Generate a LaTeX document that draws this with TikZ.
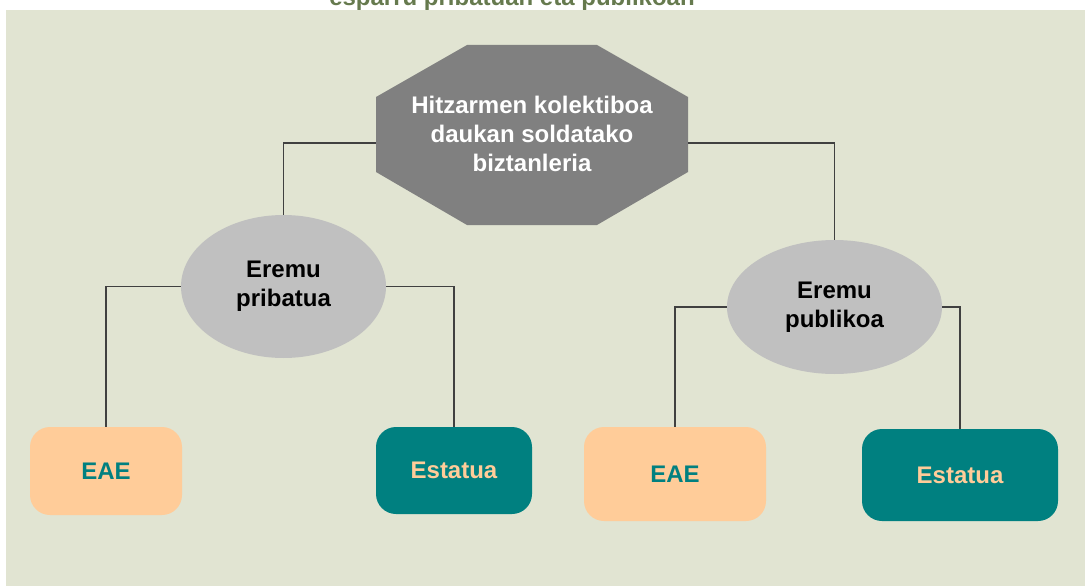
\documentclass[tikz,border=0pt]{standalone}
\usepackage{fontspec}
\setmainfont{Liberation Sans}
\usetikzlibrary{shapes.geometric,calc}
\definecolor{bgpanel}{HTML}{E1E4D2}
\definecolor{octgray}{HTML}{808080}
\definecolor{ellgray}{HTML}{C0C0C0}
\definecolor{tealc}{HTML}{008080}
\definecolor{peach}{HTML}{FFCC99}
\definecolor{olive}{HTML}{667A4E}
\definecolor{linec}{HTML}{404040}
\tikzset{
  bigtxt/.style={font=\fontsize{24}{29}\selectfont\bfseries},
  octtext/.style={bigtxt, text=white, align=center, inner sep=0pt},
  ellnode/.style={ellipse, fill=ellgray, draw=none, inner sep=0pt, bigtxt, text=black, align=center},
  eaebox/.style={rectangle, rounded corners=20pt, fill=peach, draw=none, bigtxt, text=tealc, inner sep=0pt},
  estbox/.style={rectangle, rounded corners=20pt, fill=tealc, draw=none, bigtxt, text=peach, inner sep=0pt},
  conn/.style={draw=linec, line width=1.2pt},
}
\begin{document}
\begin{tikzpicture}[x=1pt,y=-1pt]
\useasboundingbox (0,0) rectangle (1085,586);
\clip (0,0) rectangle (1085,586);
\fill[white] (0,0) rectangle (1085,586);
\node[bigtxt, text=olive, anchor=base] (title) at (512,6) {esparru pribatuan eta publikoan};
\fill[bgpanel] (6,10) rectangle (1085,586);
% octagon
\fill[octgray] (467,45) -- (597,45) -- (688,97) -- (688,172) -- (597,225) -- (467,225) -- (376,172) -- (376,97) -- cycle;
\node[octtext, minimum width=312pt, minimum height=180pt] (oct) at (532,134) {Hitzarmen kolektiboa\\daukan soldatako\\biztanleria};
% ellipses
\node[ellnode, minimum width=205pt, minimum height=143pt] (lell) at (283.5,286.5) {Eremu\\pribatua};
\node[ellnode, minimum width=215pt, minimum height=134pt] (rell) at (834.5,307) {Eremu\\publikoa};
% boxes
\node[eaebox, minimum width=152pt, minimum height=88pt] (eae1) at (106,471) {EAE};
\node[estbox, minimum width=156pt, minimum height=87pt] (est1) at (454,470.5) {Estatua};
\node[eaebox, minimum width=182pt, minimum height=94pt] (eae2) at (675,474) {EAE};
\node[estbox, minimum width=196pt, minimum height=92pt] (est2) at (960,475) {Estatua};
% connectors
\draw[conn] ([yshift=-9pt]oct.west) -| (lell.north);
\draw[conn] ([yshift=-9pt]oct.east) -| (rell.north);
\draw[conn] (lell.west) -| (eae1.north);
\draw[conn] (lell.east) -| (est1.north);
\draw[conn] (rell.west) -| (eae2.north);
\draw[conn] (rell.east) -| (est2.north);
\end{tikzpicture}
\end{document}
